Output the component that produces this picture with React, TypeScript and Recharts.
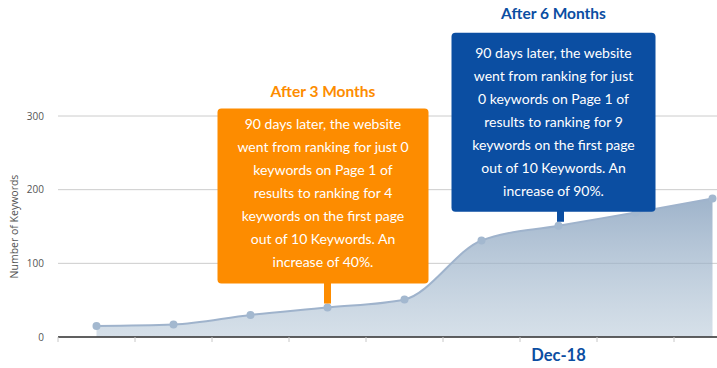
import React from 'react';
import { AreaChart, Area, XAxis, YAxis, CartesianGrid, ReferenceDot } from 'recharts';

const months = ['Jun-18', 'Jul-18', 'Aug-18', 'Sep-18', 'Oct-18', 'Nov-18', 'Dec-18', 'Jan-19', 'Feb-19'];
const keywords = [15, 17, 30, 40, 51, 131, 151, 169, 188];
const yTicks = [0, 100, 200, 300];
const shownTicks = ['Dec-18'];

const threeMonthText = [
  '90 days later, the website',
  'went from ranking for just 0',
  'keywords on Page 1 of',
  'results to ranking for 4',
  'keywords on the first page',
  'out of 10 Keywords. An',
  'increase of 40%.',
];
const sixMonthText = [
  '90 days later, the website',
  'went from ranking for just',
  '0 keywords on Page 1 of',
  'results to ranking for 9',
  'keywords on the first page',
  'out of 10 Keywords. An',
  'increase of 90%.',
];

const data = months.map((m, i) => ({ month: m, keywords: keywords[i] }));

const ORANGE = '#fd8c00';
const BLUE = '#0b4ea2';
const HALF_BAND = 38.5;

function Callout(props: any) {
  const { cx, cy, color, title, lines, dx, dy, w, h, stemDx, textTop, titleGap } = props;
  const left = cx + dx;
  const top = cy + dy;
  const mid = left + w / 2;
  const stemX = cx + stemDx;
  return (
    <g>
      <rect x={stemX - 3.5} y={top + h - 2} width={7} height={-dy - h - 2} fill={color} />
      <rect x={left} y={top} width={w} height={h} rx={4} fill={color} />
      <text x={mid} y={top - titleGap} textAnchor="middle" fill={color}
        style={{ fontFamily: 'Lato', fontWeight: 700, fontSize: 15.5 }}>
        {title}
      </text>
      {lines.map((l: string, i: number) => (
        <text key={i} x={mid} y={top + textTop + i * 23} textAnchor="middle" fill="#fff"
          style={{ fontFamily: 'Lato', fontSize: 14 }}>
          {l}
        </text>
      ))}
    </g>
  );
}

function MonthTick(props: any) {
  const { x, y, payload } = props;
  return (
    <g>
      <line x1={x - HALF_BAND} y1={y} x2={x - HALF_BAND} y2={y + 5} stroke="#c8c8c8" />
      {shownTicks.includes(payload.value) && (
        <text x={x} y={y + 24} textAnchor="middle" fill={BLUE}
          style={{ fontFamily: 'Lato', fontWeight: 700, fontSize: 16.5 }}>
          {payload.value}
        </text>
      )}
    </g>
  );
}

export default function App() {
  return (
    <div style={{ position: 'fixed', left: 0, top: 0, width: 717, height: 368, overflow: 'hidden', background: '#fff' }}>
      <AreaChart width={760} height={368} data={data} margin={{ top: 116, right: 9, left: 0, bottom: 0 }}>
        <defs>
          <linearGradient id="kwFill" x1="0" y1="0" x2="0" y2="1">
            <stop offset="0%" stopColor="#87a1be" stopOpacity={0.8} />
            <stop offset="100%" stopColor="#adc1d3" stopOpacity={0.5} />
          </linearGradient>
        </defs>
        <CartesianGrid vertical={false} stroke="#cccccc" />
        <XAxis dataKey="month" padding={{ left: HALF_BAND, right: HALF_BAND }} height={31}
          tickSize={0} tickMargin={0} tickLine={false} axisLine={{ stroke: '#333', strokeWidth: 1.5 }}
          tick={<MonthTick />} interval={0} />
        <YAxis width={58} domain={[0, 300]} ticks={yTicks} axisLine={false} tickLine={false}
          tickSize={0} tickMargin={14}
          tick={{ fill: '#555', fontSize: 10, fontFamily: 'Open Sans' }}
          label={{ value: 'Number of Keywords', angle: -90, position: 'insideLeft', offset: 14,
            style: { textAnchor: 'middle', fill: '#555', fontSize: 10.5, fontFamily: 'Open Sans' } }} />
        <Area type="monotone" dataKey="keywords" stroke="#9fb3cc" strokeWidth={2} fill="url(#kwFill)"
          fillOpacity={1} dot={{ r: 4, fill: '#a3b8cf', stroke: 'none' }} activeDot={false}
          isAnimationActive={false} />
        <ReferenceDot x={months[3]} y={keywords[3]} r={0}
          shape={(p: any) => (
            <Callout {...p} color={ORANGE} title="After 3 Months" lines={threeMonthText}
              dx={-110} dy={-199} w={211} h={175} stemDx={0} textTop={20} titleGap={12} />
          )} />
        <ReferenceDot x={months[6]} y={keywords[6]} r={0}
          shape={(p: any) => (
            <Callout {...p} color={BLUE} title="After 6 Months" lines={sixMonthText}
              dx={-107} dy={-193} w={204} h={179} stemDx={2} textTop={25} titleGap={14} />
          )} />
      </AreaChart>
    </div>
  );
}
